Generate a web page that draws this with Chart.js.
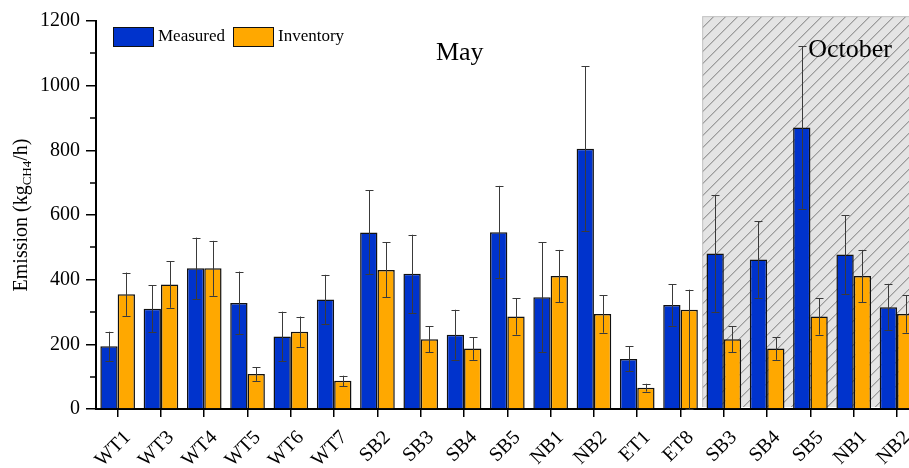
<!DOCTYPE html>
<html>
<head>
<meta charset="utf-8">
<script src="https://cdn.jsdelivr.net/npm/chart.js@4/dist/chart.umd.min.js"></script>
<style>
  html, body { margin: 0; padding: 0; background: #fff; overflow: hidden; }
  #wrap { position: relative; width: 923px; height: 468px; }
</style>
</head>
<body>
<div id="wrap"><canvas id="c"></canvas></div>
<script>
// Sites sampled in May (first 14) and again in October (last 5)
const categories = ['WT1', 'WT3', 'WT4', 'WT5', 'WT6', 'WT7', 'SB2', 'SB3', 'SB4', 'SB5',
                    'NB1', 'NB2', 'ET1', 'ET8', 'SB3', 'SB4', 'SB5', 'NB1', 'NB2'];

// Emission rates, kg CH4 per hour
const measured    = [194, 310, 435, 328, 224, 339, 546, 418, 230, 547, 346, 805, 155, 322, 481, 462, 871, 478, 315];
const measuredErr = [45, 73, 95, 97, 77, 76, 130, 121, 77, 143, 170, 255, 39, 64, 180, 118, 251, 122, 72];

const inventory        = [355, 385, 435, 108, 239, 87, 430, 216, 187, 286, 411, 294, 66, 307, 216, 187, 286, 411, 294];
const inventoryErrUp   = [67, 72, 85, 21, 47, 16, 85, 40, 35, 56, 81, 58, 12, 62, 40, 35, 56, 81, 58];
const inventoryErrDown = [67, 72, 85, 21, 47, 16, 85, 40, 35, 56, 81, 58, 12, 307, 40, 35, 56, 81, 58];

const yTicks = [0, 200, 400, 600, 800, 1000, 1200];
const yMinorTicks = [100, 300, 500, 700, 900, 1100];

const BLUE = '#0033CC';
const ORANGE = '#FFA800';
const SERIF = '"Liberation Serif", "Times New Roman", serif';

// Index where the October campaign starts
const octoberStart = 14;

// Shaded, hatched block behind the October bars
const octoberShade = {
  id: 'octoberShade',
  beforeDatasetsDraw(chart) {
    const { ctx, scales: { x, y } } = chart;
    const left = x.getPixelForValue(octoberStart - 0.5);
    const right = chart.width + 2;
    const top = y.getPixelForValue(1215);
    const bottom = y.getPixelForValue(0) - 2;
    ctx.save();
    ctx.fillStyle = '#e4e4e4';
    ctx.fillRect(left, top, right - left, bottom - top);
    ctx.beginPath();
    ctx.rect(left, top, right - left, bottom - top);
    ctx.clip();
    ctx.strokeStyle = '#7a7a7a';
    ctx.lineWidth = 1;
    const h = bottom - top;
    ctx.beginPath();
    for (let s = left - h; s < right + 12; s += 12) {
      ctx.moveTo(s, bottom);
      ctx.lineTo(s + h, top);
    }
    ctx.stroke();
    ctx.restore();
    ctx.save();
    ctx.strokeStyle = '#c4c4c4';
    ctx.lineWidth = 1;
    ctx.beginPath();
    ctx.moveTo(left + 0.5, bottom);
    ctx.lineTo(left + 0.5, top + 0.5);
    ctx.lineTo(right, top + 0.5);
    ctx.stroke();
    ctx.restore();
  }
};

// Error bars with caps, drawn over the bars
const errorBars = {
  id: 'errorBars',
  afterDatasetsDraw(chart) {
    const { ctx, scales: { y } } = chart;
    const sets = [
      { values: measured, up: measuredErr, down: measuredErr },
      { values: inventory, up: inventoryErrUp, down: inventoryErrDown }
    ];
    ctx.save();
    ctx.strokeStyle = '#3a3a3a';
    ctx.lineWidth = 1;
    sets.forEach((s, di) => {
      const meta = chart.getDatasetMeta(di);
      meta.data.forEach((bar, i) => {
        const xc = Math.round(bar.x) + 0.5;
        const yHi = y.getPixelForValue(s.values[i] + s.up[i]);
        const yLo = y.getPixelForValue(Math.max(s.values[i] - s.down[i], 0));
        ctx.beginPath();
        ctx.moveTo(xc, yHi);
        ctx.lineTo(xc, yLo);
        ctx.moveTo(xc - 4, Math.round(yHi) + 0.5);
        ctx.lineTo(xc + 4, Math.round(yHi) + 0.5);
        ctx.moveTo(xc - 4, Math.round(yLo) + 0.5);
        ctx.lineTo(xc + 4, Math.round(yLo) + 0.5);
        ctx.stroke();
      });
    });
    ctx.restore();
  }
};

// Minor y ticks, axis title with subscript, legend and month labels
const decorations = {
  id: 'decorations',
  afterDraw(chart) {
    const { ctx, scales: { x, y }, chartArea } = chart;
    ctx.save();
    // minor ticks
    ctx.strokeStyle = '#000';
    ctx.lineWidth = 1.5;
    ctx.beginPath();
    yMinorTicks.forEach(v => {
      const py = Math.round(y.getPixelForValue(v));
      ctx.moveTo(chartArea.left - 6, py);
      ctx.lineTo(chartArea.left, py);
    });
    ctx.stroke();

    // y axis title: Emission (kg_CH4/h)
    ctx.fillStyle = '#000';
    ctx.translate(27, (chartArea.top + chartArea.bottom) / 2);
    ctx.rotate(-Math.PI / 2);
    const mainFont = '20px ' + SERIF;
    const subFont = '13px ' + SERIF;
    ctx.font = mainFont;
    const a = 'Emission (kg', c = '/h)', sub = 'CH4';
    const wa = ctx.measureText(a).width, wc = ctx.measureText(c).width;
    ctx.font = subFont;
    const ws = ctx.measureText(sub).width;
    let px = -(wa + ws + wc) / 2;
    ctx.textBaseline = 'alphabetic';
    ctx.textAlign = 'left';
    ctx.font = mainFont;
    ctx.fillText(a, px, 0);
    px += wa;
    ctx.font = subFont;
    ctx.fillText(sub, px, 4);
    px += ws;
    ctx.font = mainFont;
    ctx.fillText(c, px, 0);
    ctx.setTransform(1, 0, 0, 1, 0, 0);

    // legend
    const items = [
      { label: 'Measured', color: BLUE, x: 113 },
      { label: 'Inventory', color: ORANGE, x: 233 }
    ];
    ctx.font = '17px ' + SERIF;
    ctx.textBaseline = 'middle';
    items.forEach(it => {
      ctx.fillStyle = it.color;
      ctx.fillRect(it.x, 27, 40, 19);
      ctx.strokeStyle = '#111';
      ctx.lineWidth = 1;
      ctx.strokeRect(it.x + 0.5, 27.5, 40, 19);
      ctx.fillStyle = '#000';
      ctx.fillText(it.label, it.x + 45, 37);
    });

    // month labels
    ctx.font = '26px ' + SERIF;
    ctx.textBaseline = 'alphabetic';
    ctx.textAlign = 'center';
    ctx.fillText('May', x.getPixelForValue(7.9), y.getPixelForValue(1080));
    ctx.textAlign = 'left';
    ctx.fillText('October', x.getPixelForValue(15.95), y.getPixelForValue(1088));
    ctx.restore();
  }
};

new Chart(document.getElementById('c'), {
  type: 'bar',
  data: {
    labels: categories,
    datasets: [
      { label: 'Measured', data: measured, backgroundColor: BLUE, borderColor: '#111', borderWidth: 1.5 },
      { label: 'Inventory', data: inventory, backgroundColor: ORANGE, borderColor: '#111', borderWidth: 1.5 }
    ]
  },
  options: {
    responsive: true,
    maintainAspectRatio: false,
    animation: false,
    layout: { padding: { top: 21, right: 0, bottom: 0, left: 0 } },
    datasets: { bar: { categoryPercentage: 0.8, barPercentage: 1.0 } },
    plugins: { legend: { display: false }, tooltip: { enabled: false } },
    scales: {
      x: {
        grid: { display: true, drawOnChartArea: false, drawTicks: true, tickLength: 8, offset: false,
                color: '#000', lineWidth: 1.5 },
        border: { display: true, color: '#000', width: 2 },
        ticks: { autoSkip: false, maxRotation: 45, minRotation: 45, color: '#000', padding: 9,
                 labelOffset: 10, font: { family: SERIF, size: 20 } },
        afterFit(s) { s.height = 59; }
      },
      y: {
        min: 0, max: 1200,
        afterBuildTicks(s) { s.ticks = yTicks.map(v => ({ value: v })); },
        grid: { display: true, drawOnChartArea: false, drawTicks: true, tickLength: 10,
                color: '#000', lineWidth: 1.5 },
        border: { display: true, color: '#000', width: 2 },
        ticks: { color: '#000', padding: 6, font: { family: SERIF, size: 20 },
                 callback: v => String(v) },
        afterFit(s) { s.width = 96; }
      }
    }
  },
  plugins: [octoberShade, errorBars, decorations]
});
</script>
</body>
</html>
